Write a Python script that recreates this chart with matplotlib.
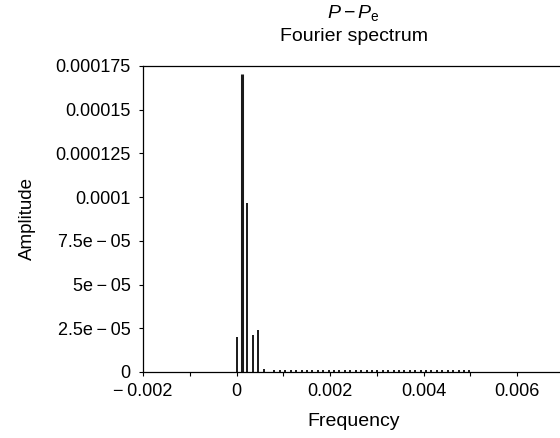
import numpy as np
import matplotlib.pyplot as plt
from matplotlib.ticker import FixedLocator

plt.rcParams['font.family'] = ['Liberation Sans', 'DejaVu Sans']
plt.rcParams['mathtext.fontset'] = 'custom'
plt.rcParams['mathtext.rm'] = 'Liberation Sans'
plt.rcParams['mathtext.it'] = 'Liberation Sans:italic'

# Fourier spectrum bins (frequency, amplitude)
freq = [0.0, 0.000116, 0.000231, 0.000347, 0.000463, 0.000579, 0.000694,
        0.000810, 0.000926, 0.001042, 0.001157, 0.001273, 0.001389, 0.001505,
        0.001620, 0.001736, 0.001852, 0.001968, 0.002083, 0.002199, 0.002315,
        0.002431, 0.002546, 0.002662, 0.002778, 0.002894, 0.003009, 0.003125,
        0.003241, 0.003356, 0.003472, 0.003588, 0.003704, 0.003819, 0.003935,
        0.004051, 0.004167, 0.004282, 0.004398, 0.004514, 0.004630, 0.004745,
        0.004861, 0.004977]
amp = [2.02e-05, 1.703e-04, 9.65e-05, 2.1e-05, 2.4e-05, 1.9e-06, 0.0,
       1.1e-06, 1.0e-06, 1.2e-06, 1.0e-06, 0.9e-06, 1.1e-06, 1.0e-06,
       1.0e-06, 1.1e-06, 0.9e-06, 1.0e-06, 1.0e-06, 1.1e-06, 1.0e-06,
       0.9e-06, 1.0e-06, 1.0e-06, 1.1e-06, 1.0e-06, 0.9e-06, 1.0e-06,
       1.0e-06, 1.0e-06, 0.9e-06, 1.0e-06, 1.1e-06, 1.0e-06, 0.9e-06,
       1.0e-06, 1.0e-06, 1.0e-06, 0.9e-06, 1.0e-06, 1.0e-06, 1.0e-06,
       0.9e-06, 1.0e-06]

y_ticks = [0, 2.5e-05, 5e-05, 7.5e-05, 0.0001, 0.000125, 0.00015, 0.000175]
y_labels = ["0", "2.5e\u2009\u2212\u200905", "5e\u2009\u2212\u200905",
            "7.5e\u2009\u2212\u200905", "0.0001",
            "0.000125", "0.00015", "0.000175"]
x_ticks = [-0.002, 0, 0.002, 0.004, 0.006]
x_labels = ["\u2212\u20090.002", "0", "0.002", "0.004", "0.006"]
x_minor = [-0.001, 0.001, 0.003, 0.005]

fig = plt.figure(figsize=(5.6, 4.38), dpi=100)
ax = fig.add_axes([143/560, 66/438, 421/560, 306/438])

widths = [1.4 if a < 1.5e-4 else 2.2 for a in amp]
ax.vlines(freq, 0, amp, colors='#1a1a1a', linewidth=widths)

ax.set_xlim(-0.002, 0.007)
ax.set_ylim(0, 0.000175)
ax.xaxis.set_major_locator(FixedLocator(x_ticks))
ax.set_xticklabels(x_labels)
ax.xaxis.set_minor_locator(FixedLocator(x_minor))
ax.yaxis.set_major_locator(FixedLocator(y_ticks))
ax.set_yticklabels(y_labels)
ax.tick_params(which='both', direction='out', length=3, width=0.8,
               labelsize=13)
ax.tick_params(axis='y', pad=6)
ax.tick_params(axis='x', pad=5)
for s in ax.spines.values():
    s.set_linewidth(0.9)

ax.set_xlabel("Frequency", fontsize=14, labelpad=9)
ax.set_ylabel("Amplitude", fontsize=13.5, labelpad=14)
ax.set_title("$P-P_{\\mathrm{e}}$\nFourier spectrum", fontsize=14,
             linespacing=1.4, pad=18)

fig.savefig("out.png", dpi=100)
